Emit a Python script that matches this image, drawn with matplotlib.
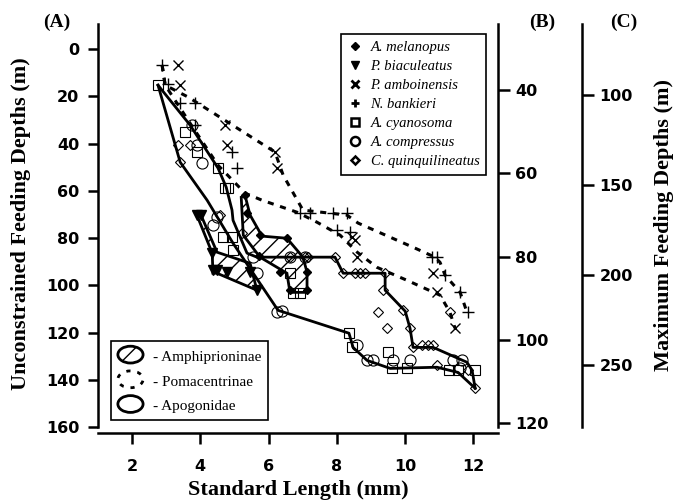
import matplotlib
matplotlib.use("Agg")
import matplotlib.pyplot as plt
import matplotlib.patches as mpatches
from matplotlib.legend_handler import HandlerPatch
from matplotlib.lines import Line2D

# ---------------------------------------------------------------------------
# Data: standard length (mm) vs unconstrained feeding depth (m)
# ---------------------------------------------------------------------------

melanopus_x = [5.31, 5.37, 5.75, 5.73, 6.54, 6.35, 7.13, 6.63, 7.13]
melanopus_y = [61.9, 69.5, 78.8, 87.7, 80.1, 94.5, 94.5, 102.1, 102.1]

biaculeatus_x = [3.90, 4.02, 4.35, 4.37, 4.49, 4.78, 5.46, 5.66]
biaculeatus_y = [70.3, 70.3, 86.4, 93.6, 93.6, 94.5, 94.5, 102.1]

amboinensis_x = [3.35, 3.41, 4.73, 4.79, 6.19, 6.25, 8.45, 8.54, 8.60, 10.83, 10.94, 11.47]
amboinensis_y = [6.8, 15.3, 32.2, 40.7, 43.6, 50.4, 79.7, 80.9, 88.1, 94.9, 103.0, 118.2]

bankieri_x = [2.88, 3.05, 3.41, 3.84, 3.84, 4.93, 5.08, 6.93, 7.22, 7.90, 8.31,
              8.01, 8.39, 10.80, 10.94, 11.18, 11.62, 11.85]
bankieri_y = [6.8, 15.0, 22.9, 22.9, 32.2, 43.6, 50.4, 69.5, 69.5, 69.5, 69.5,
              76.7, 77.5, 88.1, 88.1, 95.8, 103.0, 111.4]

cyanosoma_x = [2.76, 3.55, 3.90, 4.52, 4.73, 4.82, 4.67, 4.93, 4.96, 6.63, 6.72, 6.93,
               8.36, 8.45, 9.51, 9.63, 10.07, 11.30, 11.55, 12.06]
cyanosoma_y = [15.3, 35.2, 43.6, 50.4, 58.9, 58.9, 79.7, 79.7, 85.2, 94.9, 103.4, 103.4,
               120.3, 126.3, 128.4, 135.2, 135.2, 136.0, 136.0, 136.0]

compressus_x = [3.76, 3.90, 4.05, 4.37, 4.49, 5.55, 5.66, 6.25, 6.40, 6.63, 7.07,
                8.60, 8.89, 9.07, 9.65, 10.15, 11.41, 11.68, 11.62]
compressus_y = [32.2, 40.7, 48.3, 74.6, 71.2, 88.1, 94.9, 111.4, 111.0, 88.1, 88.1,
                125.4, 131.8, 131.8, 131.8, 131.8, 131.8, 131.8, 135.2]

quinqui_x = [3.35, 3.70, 3.41, 4.58, 5.22, 6.63, 7.07, 7.16, 7.95, 8.19, 8.54, 8.68,
             8.83, 9.42, 9.36, 9.20, 9.48, 9.95, 10.15, 10.24, 10.50, 10.68, 10.83,
             10.94, 11.85, 12.06, 11.32]
quinqui_y = [40.7, 40.7, 47.9, 70.3, 78.0, 88.1, 88.1, 88.1, 88.1, 94.9, 94.9, 94.9,
             94.9, 94.9, 102.1, 111.4, 118.2, 110.6, 118.2, 126.3, 125.4, 125.4, 125.4,
             133.9, 136.0, 143.6, 111.4]

# Family envelopes
apog_low_x = [2.76, 3.41, 4.20, 4.96, 5.55, 6.28, 8.36, 8.48, 8.89, 9.57, 10.94, 11.56, 12.06]
apog_low_y = [15.3, 47.9, 64.0, 82.2, 94.9, 110.6, 120.3, 126.3, 131.8, 135.2, 134.7, 136.9, 143.6]

apog_up_x = [2.76, 3.70, 4.52, 4.76, 4.93, 4.96, 5.37, 5.66, 7.95, 8.19, 9.42, 9.42,
             10.01, 10.15, 10.24, 10.83, 11.82, 11.97, 12.06]
apog_up_y = [15.3, 32.2, 50.4, 58.5, 68.2, 72.5, 86.4, 88.1, 88.1, 94.9, 94.9, 102.1,
             111.0, 118.2, 126.3, 126.3, 132.6, 136.0, 143.6]

poma_up_x = [2.88, 2.97, 3.64, 6.19, 6.43, 7.01, 8.30, 8.63, 10.30, 10.88, 11.03, 11.18, 11.62, 11.82]
poma_up_y = [6.8, 15.3, 20.3, 43.6, 53.4, 68.2, 70.3, 73.7, 84.3, 88.1, 90.3, 95.8, 103.0, 111.4]

poma_low_x = [2.88, 2.97, 3.70, 4.52, 5.31, 5.81, 6.84, 7.42, 8.10, 8.60, 9.18, 10.06, 11.03, 11.32, 11.47]
poma_low_y = [6.8, 15.3, 31.4, 49.2, 61.0, 64.0, 69.1, 73.3, 78.8, 86.0, 92.4, 97.9, 104.2, 111.4, 118.2]

amph_mel_x = [5.31, 5.46, 5.81, 6.54, 7.01, 7.13, 7.13, 6.63, 6.54, 5.75, 5.26, 5.20]
amph_mel_y = [61.9, 70.3, 79.2, 80.1, 88.1, 94.5, 103.0, 103.0, 94.9, 88.1, 78.8, 62.7]

amph_bia_x = [3.90, 4.02, 4.49, 5.46, 5.66, 4.49, 4.37, 4.35]
amph_bia_y = [70.3, 70.3, 86.0, 90.7, 102.1, 94.9, 94.9, 86.4]

species_labels = ["A. melanopus", "P. biaculeatus", "P. amboinensis", "N. bankieri",
                  "A. cyanosoma", "A. compressus", "C. quinquilineatus"]
family_labels = ["- Amphiprioninae", "- Pomacentrinae", "- Apogonidae"]

b_ticks = [40, 60, 80, 100, 120]
c_ticks = [100, 150, 200, 250]

SERIF = "Liberation Serif"
TICKFONT = dict(family="DejaVu Sans", weight="bold", size=11.5)


class HandlerEllipse(HandlerPatch):
    def create_artists(self, legend, orig_handle, xdescent, ydescent,
                       width, height, fontsize, trans):
        center = (0.5 * width - 0.5 * xdescent, 0.5 * height - 0.5 * ydescent)
        p = mpatches.Ellipse(xy=center, width=width + xdescent, height=height + ydescent)
        self.update_prop(p, orig_handle, legend)
        p.set_transform(trans)
        return [p]


fig = plt.figure(figsize=(6.76, 5.04), dpi=100)
ax = fig.add_axes([98 / 676, 1 - 427 / 504, 400 / 676, 403 / 504])

# --- envelopes ---
for xs, ys in [(amph_mel_x, amph_mel_y), (amph_bia_x, amph_bia_y)]:
    ax.add_patch(mpatches.Polygon(list(zip(xs, ys)), closed=True, facecolor="none",
                                  edgecolor="black", hatch="//", lw=2.0, zorder=2))
ax.plot(apog_low_x, apog_low_y, color="black", lw=2.0, zorder=3)
ax.plot(apog_up_x, apog_up_y, color="black", lw=2.0, zorder=3)
ax.plot(poma_up_x, poma_up_y, color="black", lw=2.2, ls=(0, (2, 2.2)), zorder=3)
ax.plot(poma_low_x, poma_low_y, color="black", lw=2.2, ls=(0, (2, 2.2)), zorder=3)

# --- species markers ---
ax.plot(melanopus_x, melanopus_y, "D", ms=4.5, color="black", ls="none", zorder=4)
ax.plot(biaculeatus_x, biaculeatus_y, "v", ms=7, color="black", ls="none", zorder=4)
ax.plot(amboinensis_x, amboinensis_y, "x", ms=7, mew=1.0, color="black", ls="none", zorder=4)
ax.plot(bankieri_x, bankieri_y, "+", ms=8, mew=1.0, color="black", ls="none", zorder=4)
ax.plot(cyanosoma_x, cyanosoma_y, "s", ms=7.5, mfc="none", mec="black", mew=0.8, ls="none", zorder=4)
ax.plot(compressus_x, compressus_y, "o", ms=8, mfc="none", mec="black", mew=0.8, ls="none", zorder=4)
ax.plot(quinqui_x, quinqui_y, "D", ms=5, mfc="none", mec="black", mew=0.8, ls="none", zorder=4)

ax.set_xlim(1.0, 12.73)
ax.set_ylim(160, -10.6)
ax.set_xticks([2, 4, 6, 8, 10, 12])
ax.set_yticks([0, 20, 40, 60, 80, 100, 120, 140, 160])
for side in ["top", "right"]:
    ax.spines[side].set_visible(False)
for side in ["left", "bottom"]:
    ax.spines[side].set_linewidth(1.8)
ax.spines["bottom"].set_position(("outward", 4.3))
ax.tick_params(axis="y", direction="out", length=7, width=1.8, pad=6.5)
ax.tick_params(axis="x", direction="out", length=8, width=1.8, pad=11)
for lab in ax.get_xticklabels() + ax.get_yticklabels():
    lab.set(**TICKFONT)
ax.set_xlabel("Standard Length (mm)", family=SERIF, weight="bold", size=16, labelpad=4)

# --- right axes (B) and (C) ---
ax_b = ax.twinx()
ax_b.set_ylim(120.96, 24.14)
ax_b.set_yticks(b_ticks)
ax_c = ax.twinx()
ax_c.set_ylim(284.4, 60.6)
ax_c.set_yticks(c_ticks)
ax_c.spines["right"].set_position(("outward", 60.5))
for a in (ax_b, ax_c):
    for side in ["top", "bottom", "left"]:
        a.spines[side].set_visible(False)
    a.spines["right"].set_linewidth(1.8)
    a.tick_params(axis="y", direction="out", length=8.5, width=1.8, pad=4)
    for lab in a.get_yticklabels():
        lab.set(**TICKFONT)

fig.text(21 / 676, 1 - 224 / 504, "Unconstrained Feeding Depths (m)", rotation=90,
         ha="center", va="center", family=SERIF, weight="bold", size=16)
fig.text(664 / 676, 1 - 225 / 504, "Maximum Feeding Depths (m)", rotation=90,
         ha="center", va="center", family=SERIF, weight="bold", size=16)
for px, txt in [(57, "(A)"), (542, "(B)"), (624, "(C)")]:
    fig.text(px / 676, 1 - 22 / 504, txt, ha="center", va="center",
             family=SERIF, weight="bold", size=14)

# --- species legend ---
sp_handles = [
    Line2D([], [], marker="D", ms=4.5, color="black", ls="none"),
    Line2D([], [], marker="v", ms=6, color="black", ls="none"),
    Line2D([], [], marker="x", ms=6, mew=2, color="black", ls="none"),
    Line2D([], [], marker="+", ms=6, mew=2, color="black", ls="none"),
    Line2D([], [], marker="s", ms=6, mfc="none", mec="black", mew=1.8, ls="none"),
    Line2D([], [], marker="o", ms=6.5, mfc="none", mec="black", mew=1.8, ls="none"),
    Line2D([], [], marker="D", ms=4.5, mfc="none", mec="black", mew=1.8, ls="none"),
]
leg1 = ax.legend(sp_handles, species_labels, loc="upper right",
                 bbox_to_anchor=(0.97, 0.975), borderaxespad=0,
                 prop=dict(family=SERIF, style="italic", size=10.5),
                 handlelength=1.0, handletextpad=0.6, labelspacing=0.4,
                 borderpad=0.45, fancybox=False, framealpha=1)
leg1.get_frame().set_edgecolor("black")
leg1.get_frame().set_linewidth(1.2)
ax.add_artist(leg1)

# --- family legend ---
fam_handles = [
    mpatches.Ellipse((0, 0), 1, 1, facecolor="white", edgecolor="black", hatch="//", lw=2),
    mpatches.Ellipse((0, 0), 1, 1, facecolor="white", edgecolor="black", ls=(0, (1.5, 2.5)), lw=2),
    mpatches.Ellipse((0, 0), 1, 1, facecolor="white", edgecolor="black", lw=2),
]
leg2 = ax.legend(fam_handles, family_labels, loc="lower left",
                 bbox_to_anchor=(0.0325, 0.017), borderaxespad=0,
                 handler_map={mpatches.Ellipse: HandlerEllipse()},
                 prop=dict(family=SERIF, size=11),
                 handlelength=1.65, handleheight=1.1, handletextpad=0.65,
                 labelspacing=0.6, borderpad=0.45, fancybox=False, framealpha=1)
leg2.get_frame().set_edgecolor("black")
leg2.get_frame().set_linewidth(1.2)

fig.savefig("out.png", dpi=100)
